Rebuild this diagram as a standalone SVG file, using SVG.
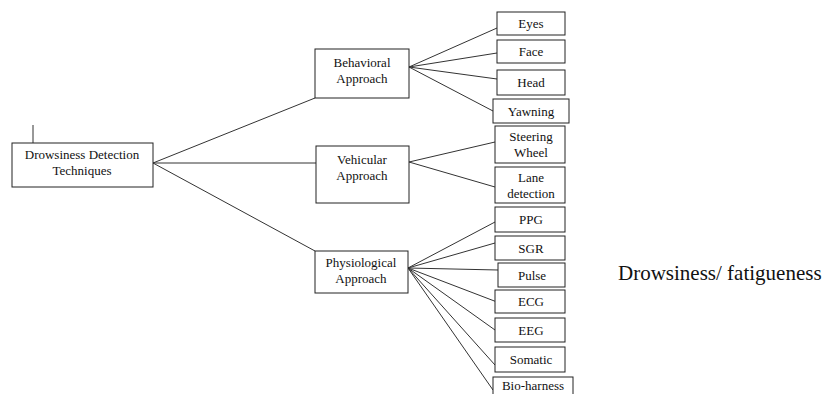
<svg xmlns="http://www.w3.org/2000/svg" width="832" height="394" viewBox="0 0 832 394">
<style>
.box{fill:#fff;stroke:#222;stroke-width:1}
.ln{stroke:#333;stroke-width:1;fill:none}
text{font-family:"Liberation Serif","Times New Roman",serif;font-size:13px;fill:#111;text-anchor:middle}
.big{font-size:21px;text-anchor:start}
</style>
<rect width="832" height="394" fill="#fff"/>
<g id="connectors">
<line class="ln" x1="33" y1="125" x2="33" y2="143"/>
<line class="ln" x1="153" y1="163" x2="315" y2="98"/>
<line class="ln" x1="153" y1="163" x2="316" y2="163"/>
<line class="ln" x1="153" y1="163" x2="315" y2="251"/>
<line class="ln" x1="409" y1="67" x2="497" y2="28"/>
<line class="ln" x1="409" y1="67" x2="497" y2="53"/>
<line class="ln" x1="409" y1="67" x2="497" y2="79"/>
<line class="ln" x1="409" y1="67" x2="493" y2="111"/>
<line class="ln" x1="409" y1="162" x2="495" y2="142"/>
<line class="ln" x1="409" y1="162" x2="495" y2="187"/>
<line class="ln" x1="408" y1="268" x2="495" y2="222"/>
<line class="ln" x1="408" y1="268" x2="495" y2="243"/>
<line class="ln" x1="408" y1="268" x2="498" y2="270"/>
<line class="ln" x1="408" y1="268" x2="497" y2="302"/>
<line class="ln" x1="408" y1="268" x2="495" y2="330"/>
<line class="ln" x1="408" y1="268" x2="495" y2="365"/>
<line class="ln" x1="408" y1="268" x2="493" y2="390"/>
</g>
<g id="root"><rect class="box" x="12" y="143" width="141" height="44"/><text x="82" y="159">Drowsiness Detection</text><text x="82" y="175">Techniques</text></g>
<g id="behavioral"><rect class="box" x="315" y="49" width="94" height="49"/><text x="362" y="67">Behavioral</text><text x="362" y="83">Approach</text></g>
<g id="vehicular"><rect class="box" x="316" y="146" width="93" height="57"/><text x="362" y="164">Vehicular</text><text x="362" y="180">Approach</text></g>
<g id="physiological"><rect class="box" x="315" y="251" width="93" height="42"/><text x="361" y="267">Physiological</text><text x="361" y="283">Approach</text></g>
<g id="eyes"><rect class="box" x="497" y="12" width="68" height="23"/><text x="531" y="28">Eyes</text></g>
<g id="face"><rect class="box" x="497" y="40" width="68" height="23"/><text x="531" y="56">Face</text></g>
<g id="head"><rect class="box" x="497" y="70" width="68" height="25"/><text x="531" y="87">Head</text></g>
<g id="yawning"><rect class="box" x="493" y="99" width="76" height="24"/><text x="531" y="116">Yawning</text></g>
<g id="steering"><rect class="box" x="495" y="126" width="70" height="37"/><text x="531" y="141">Steering</text><text x="531" y="157">Wheel</text></g>
<g id="lane"><rect class="box" x="495" y="167" width="70" height="36"/><text x="531" y="182">Lane</text><text x="531" y="198">detection</text></g>
<g id="ppg"><rect class="box" x="495" y="207" width="70" height="25"/><text x="531" y="224">PPG</text></g>
<g id="sgr"><rect class="box" x="495" y="236" width="70" height="24"/><text x="531" y="253">SGR</text></g>
<g id="pulse"><rect class="box" x="498" y="263" width="67" height="24"/><text x="532" y="280">Pulse</text></g>
<g id="ecg"><rect class="box" x="495" y="290" width="70" height="23"/><text x="531" y="306">ECG</text></g>
<g id="eeg"><rect class="box" x="495" y="318" width="70" height="24"/><text x="531" y="335">EEG</text></g>
<g id="somatic"><rect class="box" x="495" y="347" width="70" height="25"/><text x="531" y="364">Somatic</text></g>
<g id="bioharness"><rect class="box" x="493" y="377" width="80" height="24"/><text x="533" y="390">Bio-harness</text></g>
<g id="label"><text class="big" x="618" y="280">Drowsiness/ fatigueness</text></g>
</svg>
